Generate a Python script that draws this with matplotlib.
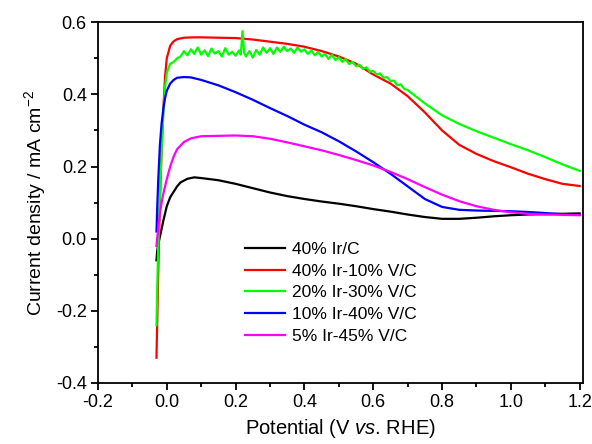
import matplotlib
matplotlib.use("Agg")
import matplotlib.pyplot as plt
from matplotlib.ticker import MultipleLocator

plt.rcParams.update({
    "font.family": ["Liberation Sans", "DejaVu Sans"],
    "mathtext.fontset": "custom",
    "mathtext.rm": "Liberation Sans",
    "mathtext.it": "Liberation Sans:italic",
})

# 40% Ir/C
v_black = [-0.03, -0.028, -0.025, -0.02, -0.01, 0.0, 0.01, 0.02, 0.03, 0.04, 0.06, 0.08, 0.1,
           0.15, 0.2, 0.25, 0.3, 0.35, 0.4, 0.45, 0.5, 0.55, 0.6, 0.65, 0.7, 0.75, 0.8, 0.85,
           0.9, 0.95, 1.0, 1.05, 1.1, 1.15, 1.2]
j_black = [-0.06, -0.035, -0.015, 0.005, 0.05, 0.09, 0.115, 0.13, 0.145, 0.156, 0.166, 0.17,
           0.168, 0.162, 0.152, 0.14, 0.128, 0.118, 0.11, 0.103, 0.097, 0.09, 0.082, 0.075,
           0.067, 0.06, 0.055, 0.055, 0.058, 0.062, 0.065, 0.067, 0.068, 0.069, 0.07]

# 40% Ir-10% V/C
v_red = [-0.03, -0.028, -0.025, -0.02, -0.015, -0.01, -0.005, 0.0, 0.01, 0.02, 0.03, 0.05, 0.08,
         0.1, 0.15, 0.2, 0.25, 0.3, 0.35, 0.4, 0.45, 0.5, 0.55, 0.6, 0.65, 0.7, 0.75, 0.8, 0.85,
         0.9, 0.95, 1.0, 1.05, 1.1, 1.15, 1.2]
j_red = [-0.33, -0.24, -0.1, 0.1, 0.25, 0.36, 0.45, 0.5, 0.535, 0.547, 0.553, 0.557, 0.558, 0.558,
         0.557, 0.556, 0.552, 0.546, 0.54, 0.532, 0.52, 0.505, 0.485, 0.455, 0.43, 0.395, 0.35,
         0.3, 0.26, 0.235, 0.215, 0.198, 0.18, 0.165, 0.152, 0.146]

# 20% Ir-30% V/C (noisy)
v_green = [-0.03, -0.028, -0.025, -0.02, -0.015, -0.01, -0.005, 0.0, 0.01, 0.02, 0.03,
           0.04, 0.05, 0.06, 0.07, 0.08, 0.09, 0.10, 0.11, 0.12, 0.13, 0.14, 0.15, 0.16, 0.17,
           0.18, 0.19, 0.20, 0.21, 0.215, 0.22, 0.225, 0.23, 0.24, 0.25, 0.26, 0.27, 0.28, 0.29,
           0.30, 0.31, 0.32, 0.33, 0.34, 0.35, 0.36, 0.37, 0.38, 0.39, 0.40, 0.41, 0.42, 0.43,
           0.44, 0.45, 0.46, 0.47, 0.48, 0.49, 0.50, 0.51, 0.52, 0.53, 0.54, 0.55, 0.56, 0.57,
           0.58, 0.59, 0.60, 0.61, 0.62, 0.63, 0.64, 0.65, 0.66, 0.67, 0.68, 0.69, 0.70,
           0.75, 0.8, 0.85, 0.9, 0.95, 1.0, 1.05, 1.1, 1.15, 1.2]
j_green = [-0.24, -0.15, -0.02, 0.12, 0.25, 0.35, 0.42, 0.46, 0.485, 0.49, 0.5,
           0.505, 0.52, 0.508, 0.525, 0.512, 0.53, 0.51, 0.522, 0.506, 0.527, 0.513, 0.52, 0.505,
           0.528, 0.51, 0.518, 0.507, 0.522, 0.51, 0.575, 0.515, 0.505, 0.52, 0.502, 0.523, 0.51,
           0.53, 0.515, 0.528, 0.512, 0.53, 0.518, 0.532, 0.52, 0.527, 0.515, 0.53, 0.518, 0.525,
           0.512, 0.522, 0.508, 0.518, 0.505, 0.512, 0.498, 0.51, 0.495, 0.503, 0.49, 0.498,
           0.484, 0.49, 0.478, 0.482, 0.47, 0.475, 0.463, 0.465, 0.455, 0.458, 0.446, 0.448,
           0.437, 0.438, 0.425, 0.428, 0.415, 0.412,
           0.375, 0.342, 0.318, 0.298, 0.28, 0.262, 0.245, 0.226, 0.206, 0.188]

# 10% Ir-40% V/C
v_blue = [-0.03, -0.028, -0.025, -0.02, -0.015, -0.01, -0.005, 0.0, 0.01, 0.02, 0.03, 0.05, 0.07,
          0.1, 0.15, 0.2, 0.25, 0.3, 0.35, 0.4, 0.45, 0.5, 0.55, 0.6, 0.65, 0.7, 0.75, 0.8, 0.85,
          0.9, 0.95, 1.0, 1.05, 1.1, 1.15, 1.2]
j_blue = [0.02, 0.08, 0.16, 0.26, 0.32, 0.36, 0.39, 0.41, 0.43, 0.44, 0.446, 0.448, 0.447, 0.44,
          0.425, 0.406, 0.385, 0.362, 0.34, 0.316, 0.295, 0.27, 0.242, 0.212, 0.18, 0.145, 0.11,
          0.088, 0.08, 0.078, 0.077, 0.076, 0.074, 0.071, 0.068, 0.066]

# 5% Ir-45% V/C
v_mag = [-0.03, -0.025, -0.02, -0.015, -0.01, -0.005, 0.0, 0.01, 0.02, 0.03, 0.05, 0.07, 0.1,
         0.15, 0.2, 0.25, 0.3, 0.35, 0.4, 0.45, 0.5, 0.55, 0.6, 0.65, 0.7, 0.75, 0.8, 0.85, 0.9,
         0.95, 1.0, 1.05, 1.1, 1.15, 1.2]
j_mag = [-0.02, 0.03, 0.07, 0.1, 0.125, 0.145, 0.165, 0.2, 0.228, 0.248, 0.268, 0.278, 0.284,
         0.285, 0.286, 0.284, 0.277, 0.267, 0.256, 0.245, 0.232, 0.218, 0.203, 0.185, 0.165,
         0.143, 0.122, 0.104, 0.09, 0.08, 0.073, 0.069, 0.067, 0.066, 0.065]

series = [
    (v_black, j_black, "#000000", "40% Ir/C"),
    (v_red, j_red, "#ff0000", "40% Ir-10% V/C"),
    (v_green, j_green, "#00ff00", "20% Ir-30% V/C"),
    (v_blue, j_blue, "#0000ff", "10% Ir-40% V/C"),
    (v_mag, j_mag, "#ff00ff", "5% Ir-45% V/C"),
]

fig = plt.figure(figsize=(5.92, 4.44), dpi=100)
ax = fig.add_axes([0.1655, 0.1374, 0.8195, 0.8126])

for v, j, c, lab in series:
    ax.plot(v, j, color=c, linewidth=1.6, label=lab)

ax.set_xlim(-0.2, 1.21)
ax.set_ylim(-0.4, 0.6)
ax.xaxis.set_major_locator(MultipleLocator(0.2))
ax.xaxis.set_minor_locator(MultipleLocator(0.1))
ax.yaxis.set_major_locator(MultipleLocator(0.2))
ax.yaxis.set_minor_locator(MultipleLocator(0.1))
ax.xaxis.set_major_formatter(plt.FuncFormatter(lambda x, p: f"{x:.1f}"))
ax.yaxis.set_major_formatter(plt.FuncFormatter(lambda y, p: f"{y:.1f}"))
ax.tick_params(which="both", direction="out", top=False, right=False, width=1.3)
ax.tick_params(which="major", length=5, labelsize=13, pad=3)
ax.tick_params(which="minor", length=3)
for s in ax.spines.values():
    s.set_linewidth(1.3)

ax.set_xlabel(r"Potential (V $\mathit{vs}$. RHE)", fontsize=14.5, labelpad=4)
ax.set_ylabel(r"Current density / mA cm$^{\mathregular{-2}}$", fontsize=14, labelpad=6)

ax.legend(loc="upper left", bbox_to_anchor=(0.27, 0.435), frameon=False, fontsize=12.5,
          handlelength=2.35, handletextpad=0.4, labelspacing=0.38)

fig.savefig("out.png", dpi=100)
